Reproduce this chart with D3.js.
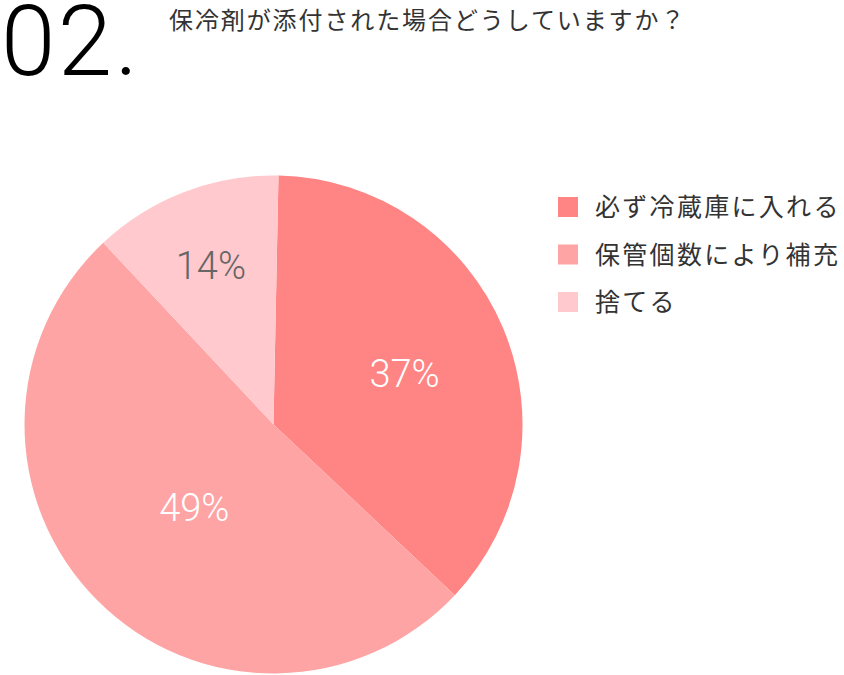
<!DOCTYPE html>
<html><head><meta charset="utf-8">
<script src="https://cdn.jsdelivr.net/npm/d3@7"></script>
<style>
html,body{margin:0;padding:0;background:#fff;}
svg{display:block;}
</style></head>
<body>
<svg id="c" width="844" height="675"></svg>
<script>
const categories = ["必ず冷蔵庫に入れる", "保管個数により補充", "捨てる"];
const sliceShares = [36.7, 51.0, 12.3];
const percentLabels = ["37%", "49%", "14%"];
const colors = ["#FF8484", "#FFA4A4", "#FFC9CD"];
const labelColors = ["#ffffff", "#ffffff", "#666666"];
const titleNumber = "02.";
const question = "保冷剤が添付された場合どうしていますか？";

const svg = d3.select("#c");
const cx = 273.5, cy = 424.5, r = 249;
const startA = 0.02;

svg.append("text").attr("x", 1).attr("y", 75)
  .attr("font-family", "Roboto").attr("font-weight", 300).attr("font-size", 98)
  .attr("letter-spacing", 2.5)
  .attr("fill", "#000").text(titleNumber);

svg.append("text").attr("x", 169).attr("y", 29)
  .attr("font-family", "Noto Sans CJK JP").attr("font-size", 24).attr("letter-spacing", 1.9)
  .attr("fill", "#333").text(question);

const pie = d3.pie().sort(null).value(d => d).startAngle(startA).endAngle(startA + 2 * Math.PI);
const arcs = pie(sliceShares);
const arc = d3.arc().innerRadius(0).outerRadius(r);
const g = svg.append("g").attr("transform", `translate(${cx},${cy})`);
g.selectAll("path").data(arcs).join("path")
  .attr("d", arc).attr("fill", (d, i) => colors[i]);

// label placed near the geometric centroid of each sector
function labelPos(d) {
  const th = d.endAngle - d.startAngle;
  const rr = 1.08 * (2 * r * Math.sin(th / 2)) / (1.5 * th);
  const a = (d.startAngle + d.endAngle) / 2;
  return [rr * Math.sin(a), -rr * Math.cos(a)];
}
g.selectAll("text").data(arcs).join("text")
  .attr("transform", d => { const c = labelPos(d); return `translate(${c[0]},${c[1] + 4})`; })
  .attr("text-anchor", "middle").attr("dy", "0.35em")
  .attr("font-family", "Roboto").attr("font-weight", 300).attr("font-size", 38)
  .attr("fill", (d, i) => labelColors[i])
  .text((d, i) => percentLabels[i]);

const lg = svg.append("g").attr("transform", "translate(558,197)");
const rows = lg.selectAll("g").data(categories).join("g")
  .attr("transform", (d, i) => `translate(0,${i * 47.5})`);
rows.append("rect").attr("width", 20).attr("height", 20).attr("fill", (d, i) => colors[i]);
rows.append("text").attr("x", 37).attr("y", 19)
  .attr("font-family", "Noto Sans CJK JP").attr("font-size", 25).attr("letter-spacing", 2.3)
  .attr("fill", "#333").text(d => d);
</script>
</body></html>
